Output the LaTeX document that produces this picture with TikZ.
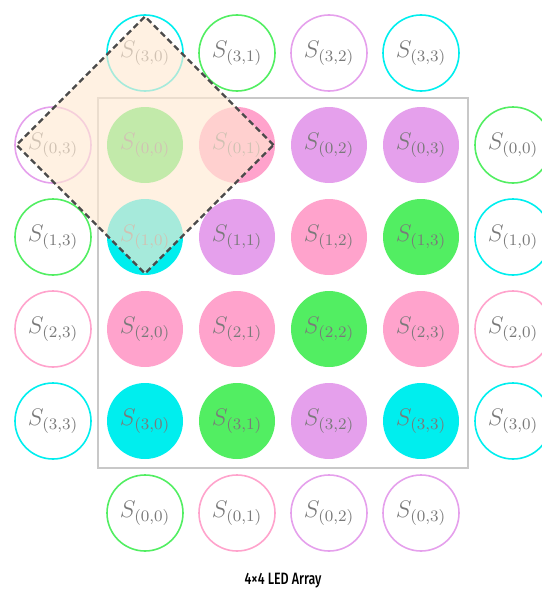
\documentclass[tikz,border=0pt]{standalone}
\usepackage{fontspec}
\usetikzlibrary{positioning,fit,shapes.geometric}
\newfontfamily\capfont[FakeStretch=0.76]{Fira Sans Medium}
\definecolor{ledgreen}{HTML}{52EE62}
\definecolor{ledpink}{HTML}{FFA3CC}
\definecolor{ledviolet}{HTML}{E5A0EC}
\definecolor{ledcyan}{HTML}{00EEEE}
\definecolor{labelgray}{HTML}{7A7A7A}
\definecolor{framegray}{HTML}{C8C8C8}
\definecolor{winfill}{HTML}{FFE9D2}
\definecolor{wingray}{HTML}{4A4A4A}

\begin{document}
\begin{tikzpicture}[x=0.5pt,y=-0.5pt,
  led/.style={circle,inner sep=0pt,minimum size=38pt,text=labelgray,font=\fontsize{11.5}{13}\selectfont},
  ledon/.style={led,fill=#1},
  ledoff/.style={led,draw=#1,line width=0.8pt}]
  \useasboundingbox (0,0) rectangle (541,589);
  % the 4x4 array
  \foreach \i/\j/\c in {0/0/ledgreen,0/1/ledpink,0/2/ledviolet,0/3/ledviolet,
                        1/0/ledcyan,1/1/ledviolet,1/2/ledpink,1/3/ledgreen,
                        2/0/ledpink,2/1/ledpink,2/2/ledgreen,2/3/ledpink,
                        3/0/ledcyan,3/1/ledgreen,3/2/ledviolet,3/3/ledcyan}
    \node[ledon=\c] (led-\i-\j) at (145+92*\j,145+92*\i) {$S_{(\i,\j)}$};
  \node[fit=(led-0-0)(led-3-3),draw=framegray,line width=0.75pt,inner sep=4.3pt] (array) {};
  % wrapped copies round the edge
  \foreach \j/\c in {0/ledcyan,1/ledgreen,2/ledviolet,3/ledcyan}
    \node[ledoff=\c] (top-\j) at (145+92*\j,53) {$S_{(3,\j)}$};
  \foreach \j/\c in {0/ledgreen,1/ledpink,2/ledviolet,3/ledviolet}
    \node[ledoff=\c] (bot-\j) at (145+92*\j,513) {$S_{(0,\j)}$};
  \foreach \i/\c in {0/ledviolet,1/ledgreen,2/ledpink,3/ledcyan}
    \node[ledoff=\c] (left-\i) at (53,145+92*\i) {$S_{(\i,3)}$};
  \foreach \i/\c in {0/ledgreen,1/ledcyan,2/ledpink,3/ledcyan}
    \node[ledoff=\c] (right-\i) at (513,145+92*\i) {$S_{(\i,0)}$};
  % sampling window
  \node[diamond,aspect=1,inner sep=0pt,minimum width=129pt,minimum height=129pt,
        fill=winfill,fill opacity=0.65,draw=wingray,line width=1.1pt,dash pattern=on 3pt off 1.8pt] (window) at (led-0-0) {};
  \node[font=\capfont\fontsize{8.2}{10}\selectfont] (caption) at (283,581) {4×4 LED Array};
\end{tikzpicture}
\end{document}
